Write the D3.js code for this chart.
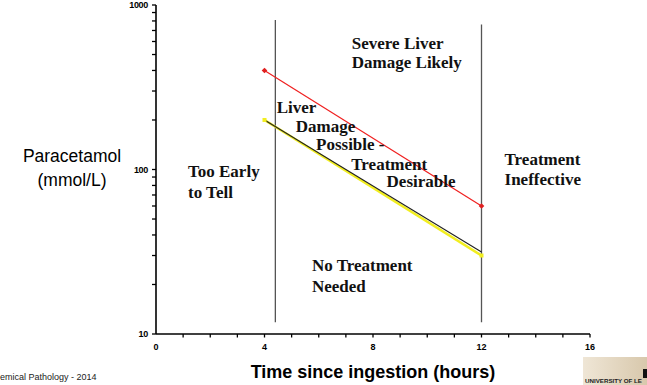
<!DOCTYPE html>
<html>
<head>
<meta charset="utf-8">
<script src="https://cdn.jsdelivr.net/npm/d3@7"></script>
<style>
  body { margin: 0; background: #fff; }
  svg { display: block; }
  .serif { font-family: "Liberation Serif", "Times New Roman", serif; font-weight: bold; font-size: 17px; fill: #111; }
</style>
</head>
<body>
<svg id="chart" width="647" height="385"></svg>
<script>
// Daten
const xTicks = [0, 4, 8, 12, 16];
const yTicks = [10, 100, 1000];
const redLine = [[4, 400], [12, 60]];     // obere Linie
const yellowLine = [[4, 200], [12, 30]];  // untere Linie (gelb)
const blackLine = [[4, 200], [12, 31.5]]; // schwarze Linie über gelb
const vLines = [[[4.4, 810], [4.4, 11.8]], [[12, 760], [12, 11.8]]];

// Beschriftungen der Zonen: [x (Stunden), y (Wert), Text]
const zoneLabels = [
  [7.22, 540, "Severe Liver"], [7.22, 414, "Damage Likely"],
  [4.45, 220, "Liver"], [5.15, 169, "Damage"], [5.9, 131, "Possible -"],
  [7.2, 100, "Treatment"], [8.5, 78, "Desirable"],
  [1.18, 90, "Too Early"], [1.18, 67, "to Tell"],
  [12.85, 106, "Treatment"], [12.85, 80.5, "Ineffective"],
  [5.75, 24.2, "No Treatment"], [5.75, 18, "Needed"]
];

const svg = d3.select("#chart");

// Skalen
const x = d3.scaleLinear().domain([0, 16]).range([156, 590]);
const y = d3.scaleLog().domain([10, 1000]).range([334, 5]);

const line = d3.line().x(d => x(d[0])).y(d => y(d[1]));

// vertikale Trennlinien
svg.selectAll(".vline")
  .data(vLines)
  .enter()
  .append("path")
  .attr("class", "vline")
  .attr("d", line)
  .attr("stroke", "#555")
  .attr("stroke-width", 1.3)
  .attr("fill", "none");

// Achsen
const yAxis = svg.append("g").attr("transform", "translate(156,0)");
yAxis.append("line")
  .attr("y1", y(1000)).attr("y2", y(10))
  .attr("stroke", "#000").attr("stroke-width", 1.6);

// kleine Ticks y
const yMinor = [];
[10, 100].forEach(dec => { for (let k = 2; k <= 9; k++) yMinor.push(dec * k); });
yAxis.selectAll(".ym")
  .data(yMinor.concat(yTicks))
  .enter()
  .append("line")
  .attr("x1", -4).attr("x2", 0)
  .attr("y1", d => y(d)).attr("y2", d => y(d))
  .attr("stroke", "#000").attr("stroke-width", 1.3);

yAxis.selectAll(".yl")
  .data(yTicks)
  .enter()
  .append("text")
  .attr("x", -8)
  .attr("y", d => y(d) + 3)
  .attr("text-anchor", "end")
  .style("font-family", "Liberation Sans, Arial, sans-serif")
  .style("font-size", "9px")
  .style("font-weight", "bold")
  .style("letter-spacing", "-0.3px")
  .text(d => d);

const xAxis = svg.append("g").attr("transform", "translate(0," + y(10) + ")");
xAxis.append("line")
  .attr("x1", x(0)).attr("x2", x(16))
  .attr("stroke", "#000").attr("stroke-width", 1.6);

xAxis.selectAll(".xm")
  .data(d3.range(1, 17))
  .enter()
  .append("line")
  .attr("x1", d => x(d)).attr("x2", d => x(d))
  .attr("y1", 0).attr("y2", 3.5)
  .attr("stroke", "#000").attr("stroke-width", 1.3);

xAxis.selectAll(".xl")
  .data(xTicks)
  .enter()
  .append("text")
  .attr("x", d => x(d))
  .attr("y", 16)
  .attr("text-anchor", "middle")
  .style("font-family", "Liberation Sans, Arial, sans-serif")
  .style("font-size", "9px")
  .style("font-weight", "bold")
  .text(d => d);

// Linien
svg.append("path")
  .attr("d", line(redLine))
  .attr("stroke", "#f02020").attr("stroke-width", 1.2).attr("fill", "none");
svg.append("path")
  .attr("d", line(yellowLine))
  .attr("stroke", "#f2ee20").attr("stroke-width", 2.6).attr("fill", "none");
svg.append("path")
  .attr("d", line(blackLine))
  .attr("stroke", "#222").attr("stroke-width", 1.1).attr("fill", "none");

// Marker
svg.selectAll(".rm")
  .data(redLine)
  .enter()
  .append("rect")
  .attr("x", d => x(d[0]) - 2).attr("y", d => y(d[1]) - 2)
  .attr("width", 4).attr("height", 4)
  .attr("transform", d => "rotate(45," + x(d[0]) + "," + y(d[1]) + ")")
  .attr("fill", "#e02020");
svg.selectAll(".gm")
  .data(yellowLine)
  .enter()
  .append("rect")
  .attr("x", d => x(d[0]) - 2).attr("y", d => y(d[1]) - 2)
  .attr("width", 4).attr("height", 4)
  .attr("fill", "#f2ee20");

// Zonen-Texte
svg.selectAll(".zone")
  .data(zoneLabels)
  .enter()
  .append("text")
  .attr("class", "serif")
  .attr("x", d => x(d[0]))
  .attr("y", d => y(d[1]))
  .text(d => d[2]);

// Achsentitel
svg.append("text")
  .attr("x", 72).attr("y", 162)
  .attr("text-anchor", "middle")
  .style("font-family", "Liberation Sans, Arial, sans-serif")
  .style("font-size", "17.5px")
  .text("Paracetamol");
svg.append("text")
  .attr("x", 72).attr("y", 186)
  .attr("text-anchor", "middle")
  .style("font-family", "Liberation Sans, Arial, sans-serif")
  .style("font-size", "17.5px")
  .text("(mmol/L)");

svg.append("text")
  .attr("x", x(8)).attr("y", 378)
  .attr("text-anchor", "middle")
  .style("font-family", "Liberation Sans, Arial, sans-serif")
  .style("font-size", "18px")
  .style("font-weight", "bold")
  .text("Time since ingestion (hours)");

// Fusszeile (links abgeschnitten wie im Original)
svg.append("text")
  .attr("x", 0).attr("y", 380)
  .style("font-family", "Liberation Sans, Arial, sans-serif")
  .style("font-size", "9px")
  .style("fill", "#222")
  .text("emical Pathology - 2014");

// Logo unten rechts
const grad = svg.append("defs").append("linearGradient")
  .attr("id", "logoGrad").attr("x1", 0).attr("x2", 1);
grad.append("stop").attr("offset", "0%").attr("stop-color", "#efe6d6");
grad.append("stop").attr("offset", "100%").attr("stop-color", "#d8c8ac");
svg.append("rect")
  .attr("x", 583).attr("y", 357).attr("width", 64).attr("height", 28)
  .attr("fill", "url(#logoGrad)");
svg.append("rect")
  .attr("x", 643).attr("y", 369).attr("width", 4).attr("height", 9)
  .attr("fill", "#111");
svg.append("text")
  .attr("x", 585).attr("y", 383)
  .style("font-family", "Liberation Sans, Arial, sans-serif")
  .style("font-size", "6.2px")
  .style("font-weight", "bold")
  .style("fill", "#222")
  .text("UNIVERSITY OF LE");
</script>
</body>
</html>
